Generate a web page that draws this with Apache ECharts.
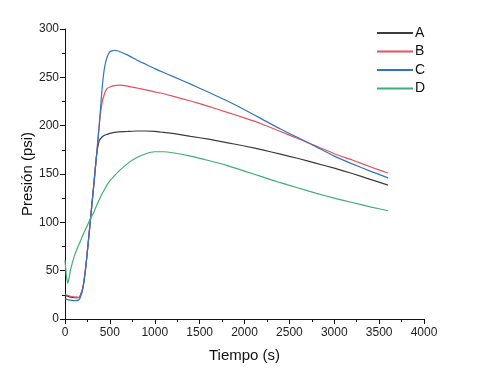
<!DOCTYPE html>
<html>
<head>
<meta charset="utf-8">
<script src="https://cdn.jsdelivr.net/npm/echarts@6/dist/echarts.min.js"></script>
<style>
  html, body { margin: 0; padding: 0; background: #fff; }
  #grafico { width: 498px; height: 377px; }
</style>
</head>
<body>
<div id="grafico"></div>
<script>
var tiempo = [0, 15, 30, 45, 60, 100, 150, 170, 200, 230, 260, 290, 320, 350, 380, 410, 440, 470, 500, 550, 600, 700, 800, 900, 1000, 1100, 1200, 1400, 1600, 1800, 2000, 2200, 2400, 2600, 2800, 3000, 3200, 3400, 3600];

var serieA = [24, 24, 23.5, 23, 22.5, 22, 22, 24, 33, 53, 80, 109, 138, 168, 184, 188, 190, 191, 192, 193, 193.5, 194, 194.5, 194.5, 194, 193, 192, 189, 186, 182.5, 179, 175, 170.5, 166, 161, 156, 150.5, 144.5, 138.5];
var serieB = [26, 25, 24.5, 24, 23.5, 23, 22.5, 24, 33, 53, 80, 109, 138, 167, 200, 222, 233, 238.5, 240, 241.5, 242, 241, 239, 237, 235, 233, 230.5, 225.5, 220, 214, 208, 201.5, 194, 186.5, 178.8, 171, 164.5, 157.5, 151];
var serieC = [21, 20.5, 20, 19.5, 19.5, 19, 19.5, 22, 32, 52, 80, 109, 138, 168, 198, 235, 260, 271, 276.5, 278, 277, 273, 268, 263.5, 259, 255, 251, 243, 234.5, 226, 216.5, 206.5, 196.5, 187.5, 178, 168.5, 160.5, 153, 146];
var serieD = [61, 45, 37, 42, 50, 64, 76, 80, 87, 93, 99, 105, 110, 117, 123, 129, 134, 139, 143, 148, 153, 161, 167, 171, 173, 173, 172, 168.5, 164, 159, 153, 147, 141, 135.5, 130, 125, 120.5, 116, 112];

var nombres = ['A', 'B', 'C', 'D'];
var colores = ['#3c3c3c', '#e8505a', '#2f74c0', '#3fae78'];
var valores = [serieA, serieB, serieC, serieD];

function pares(v) {
  return tiempo.map(function (t, i) { return [t, v[i]]; });
}

var fuente = 'Liberation Sans, Arial, sans-serif';
var myChart = echarts.init(document.getElementById('grafico'));

var option = {
  backgroundColor: '#fff',
  animation: false,
  grid: { left: 65, right: 74, top: 29, bottom: 58 },
  legend: {
    orient: 'vertical',
    left: 372,
    top: 21,
    icon: 'rect',
    itemWidth: 36,
    itemHeight: 2,
    itemGap: 4.5,
    textStyle: { fontSize: 14, color: '#111', fontFamily: fuente, lineHeight: 13.5, padding: [0, 0, 0, -3] },
    data: nombres
  },
  xAxis: {
    type: 'value',
    min: 0, max: 4000, interval: 500,
    name: 'Tiempo (s)',
    nameLocation: 'middle',
    nameGap: 29,
    nameMoveOverlap: false,
    nameTextStyle: { fontSize: 15, color: '#111', fontFamily: fuente },
    axisLine: { lineStyle: { color: '#111', width: 1 } },
    axisTick: { show: true, length: 5, lineStyle: { color: '#111' } },
    minorTick: { show: true, splitNumber: 2, length: 3, lineStyle: { color: '#111' } },
    axisLabel: { fontSize: 12, color: '#222', fontFamily: fuente, margin: 8, formatter: function (v) { return String(v); } },
    splitLine: { show: false }
  },
  yAxis: {
    type: 'value',
    min: 0, max: 300, interval: 50,
    name: 'Presión (psi)',
    nameLocation: 'middle',
    nameGap: 30,
    nameMoveOverlap: false,
    nameTextStyle: { fontSize: 15, color: '#111', fontFamily: fuente },
    axisLine: { show: true, lineStyle: { color: '#111', width: 1 } },
    axisTick: { show: true, length: 5, lineStyle: { color: '#111' } },
    minorTick: { show: true, splitNumber: 2, length: 3, lineStyle: { color: '#111' } },
    axisLabel: { fontSize: 12, color: '#222', fontFamily: fuente, margin: 6 },
    splitLine: { show: false }
  },
  series: nombres.map(function (n, i) {
    return {
      name: n,
      type: 'line',
      data: pares(valores[i]),
      showSymbol: false,
      symbol: 'none',
      smooth: 0.15,
      color: colores[i],
      lineStyle: { width: 1.2, color: colores[i] }
    };
  })
};

option && myChart.setOption(option);
</script>
</body>
</html>
